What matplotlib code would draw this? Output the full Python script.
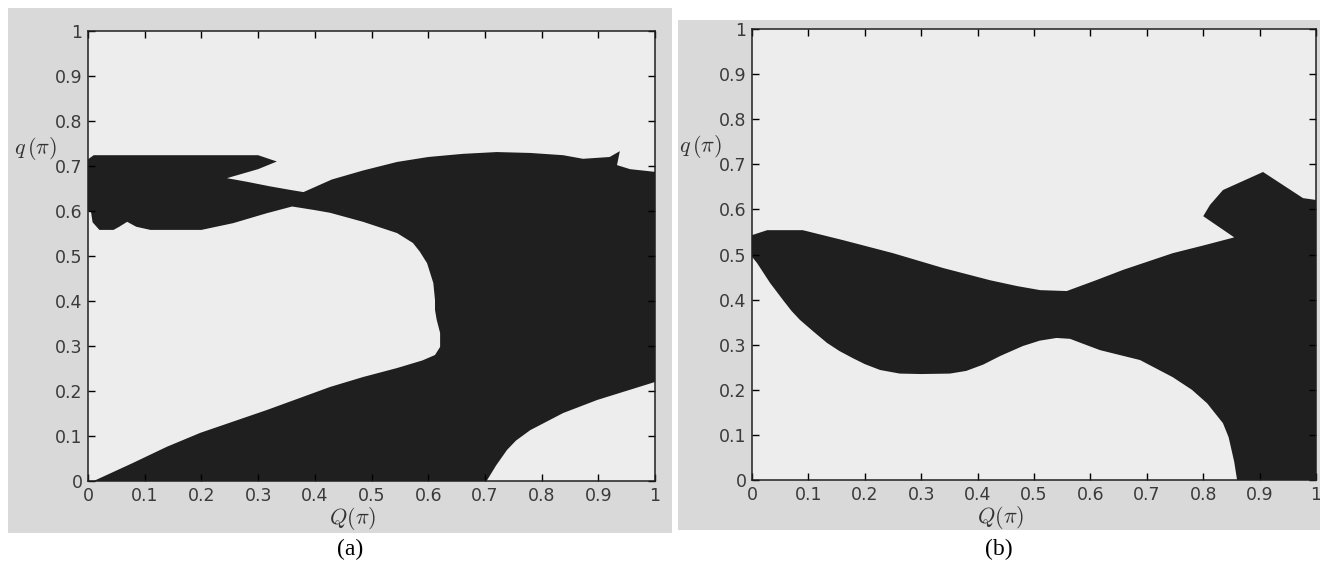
import numpy as np
import matplotlib
matplotlib.use('Agg')
import matplotlib.pyplot as plt
from matplotlib.patches import Rectangle

# boundary of the black region, panel (a)  (Q, q) in units of pi
qa_x = [0.0, 0.01, 0.30, 0.333, 0.30, 0.245, 0.28, 0.32, 0.356, 0.38,
        0.43, 0.485, 0.545, 0.60, 0.661, 0.721, 0.78, 0.838, 0.873, 0.92,
        0.938, 0.933, 0.956, 1.0, 1.0, 0.898, 0.838, 0.78, 0.755, 0.739,
        0.72, 0.703,
        0.01, 0.079, 0.139, 0.198, 0.316, 0.427, 0.485, 0.545, 0.59, 0.612,
        0.621, 0.621, 0.615, 0.612, 0.612, 0.609, 0.598, 0.585, 0.573, 0.545,
        0.485, 0.427, 0.40, 0.36, 0.315, 0.256, 0.2, 0.11, 0.085, 0.069,
        0.055, 0.045, 0.02, 0.008, 0.005, 0.0]
qa_y = [0.715, 0.724, 0.724, 0.71, 0.693, 0.673, 0.665, 0.655, 0.647, 0.642,
        0.67, 0.69, 0.709, 0.72, 0.727, 0.731, 0.729, 0.724, 0.716, 0.72,
        0.733, 0.702, 0.693, 0.687, 0.22, 0.18, 0.151, 0.113, 0.09, 0.069,
        0.035, 0.0,
        0.0, 0.04, 0.076, 0.107, 0.158, 0.209, 0.231, 0.251, 0.268, 0.28,
        0.298, 0.329, 0.358, 0.38, 0.402, 0.44, 0.484, 0.51, 0.529, 0.551,
        0.576, 0.596, 0.602, 0.61, 0.595, 0.573, 0.558, 0.558, 0.565, 0.576,
        0.565, 0.558, 0.558, 0.575, 0.6, 0.6]

# boundary of the black region, panel (b)
qb_x = [0.0, 0.027, 0.09, 0.161, 0.25, 0.339, 0.422, 0.47, 0.511, 0.558,
        0.61, 0.658, 0.746, 0.80, 0.855, 0.80, 0.812, 0.835, 0.906, 0.977,
        1.0, 1.0, 0.86, 0.855, 0.845, 0.835, 0.807, 0.78, 0.746, 0.688,
        0.617, 0.585, 0.564, 0.54, 0.51, 0.48, 0.44, 0.41, 0.38, 0.351,
        0.3, 0.262, 0.227, 0.2, 0.179, 0.155, 0.133, 0.11, 0.085, 0.07,
        0.055, 0.032, 0.02, 0.009, 0.0]
qb_y = [0.543, 0.554, 0.554, 0.532, 0.503, 0.47, 0.443, 0.43, 0.421, 0.419,
        0.443, 0.466, 0.503, 0.52, 0.538, 0.585, 0.61, 0.643, 0.683, 0.625,
        0.621, 0.0, 0.0, 0.04, 0.095, 0.126, 0.17, 0.2, 0.228, 0.266,
        0.288, 0.303, 0.313, 0.315, 0.309, 0.297, 0.275, 0.256, 0.242, 0.236,
        0.235, 0.236, 0.244, 0.257, 0.27, 0.286, 0.304, 0.328, 0.355, 0.375,
        0.399, 0.437, 0.46, 0.481, 0.495]

ticks = [0, 0.1, 0.2, 0.3, 0.4, 0.5, 0.6, 0.7, 0.8, 0.9, 1]
tick_labels = ['0', '0.1', '0.2', '0.3', '0.4', '0.5', '0.6', '0.7', '0.8', '0.9', '1']

plt.rcParams['mathtext.fontset'] = 'cm'

fig = plt.figure(figsize=(13.2, 5.68), dpi=100)
fig.patch.set_facecolor('white')

# gray panels behind each plot
fig.patches.append(Rectangle((0.006, 0.0616), 0.503, 0.9243, transform=fig.transFigure,
                             facecolor='#d9d9d9', edgecolor='none', zorder=-5))
fig.patches.append(Rectangle((0.5136, 0.0669), 0.4864, 0.898, transform=fig.transFigure,
                             facecolor='#d9d9d9', edgecolor='none', zorder=-5))

ax1 = fig.add_axes([0.0667, 0.1532, 0.4295, 0.7922])
ax2 = fig.add_axes([0.5697, 0.1549, 0.4273, 0.794])

for ax, px, py, xl in [(ax1, qa_x, qa_y, 0.467), (ax2, qb_x, qb_y, 0.44)]:
    ax.set_facecolor('#ededed')
    ax.fill(px, py, color='#1f1f1f', lw=0)
    ax.set_xlim(0, 1)
    ax.set_ylim(0, 1)
    ax.set_xticks(ticks)
    ax.set_xticklabels(tick_labels)
    ax.set_yticks(ticks)
    ax.set_yticklabels(tick_labels)
    ax.tick_params(direction='in', top=True, right=True, length=5, width=1,
                   labelsize=12.5, labelcolor='#3a3a3a', pad=4)
    for s in ax.spines.values():
        s.set_linewidth(1.1)
        s.set_color('#202020')
    ax.set_xlabel(r'$Q(\pi)$', fontsize=16, color='#333333', va='center')
    ax.xaxis.set_label_coords(xl, -0.083)
    ax.set_ylabel(r'$q\,(\pi)$', fontsize=16, rotation=0, color='#333333',
                  va='center', ha='center')
    ax.yaxis.set_label_coords(-0.092, 0.74)

fig.text(0.265, 0.032, '(a)', ha='center', va='center', fontsize=17, family='Liberation Serif')
fig.text(0.757, 0.032, '(b)', ha='center', va='center', fontsize=17, family='Liberation Serif')

plt.savefig('out.png', dpi=100)
